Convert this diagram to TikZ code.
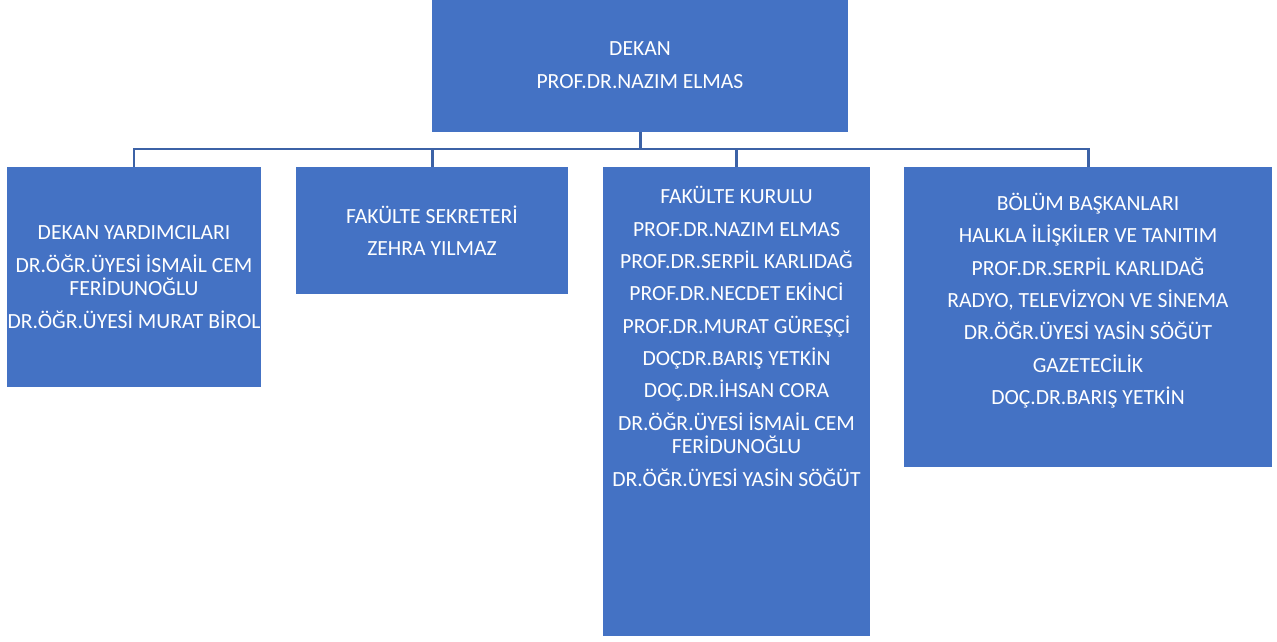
\documentclass[tikz,border=0pt]{standalone}
\usepackage{fontspec}
\setmainfont{Carlito}
\definecolor{boxblue}{HTML}{4472C4}
\definecolor{linkblue}{HTML}{3C62A6}

\begin{document}
\begin{tikzpicture}[
        box/.style={fill=boxblue, inner sep=0pt, outer sep=0pt},
        txt/.style={text=white, align=center, inner sep=0pt, font=\fontsize{6.15}{6.7}\selectfont},
        link/.style={draw=linkblue, line width=0.85pt}
        ]
            \useasboundingbox (0, 0) rectangle (12.77, -6.41);

            % Dekan
            \node[box, minimum width=4.16cm, minimum height=1.32cm] (dekan) at (6.40, -0.66) {};
            \node[txt] (dekantxt) at ([yshift=0.01cm]dekan.center) {DEKAN\\[2.5pt] PROF.DR.NAZIM ELMAS};

            % Second level
            \node[box, minimum width=2.54cm, minimum height=2.20cm] (yard) at (1.34, -2.77) {};
            \node[box, minimum width=2.72cm, minimum height=1.27cm] (sekreter) at (4.32, -2.305) {};
            \node[box, minimum width=2.67cm, minimum height=4.69cm] (kurul) at (7.365, -4.015) {};
            \node[box, minimum width=3.68cm, minimum height=3.00cm] (bolum) at (10.88, -3.17) {};

            \node[txt] (yardtxt) at (yard.center) {DEKAN YARDIMCILARI\\[2.5pt] DR.ÖĞR.ÜYESİ İSMAİL CEM\\ FERİDUNOĞLU\\[2.5pt] DR.ÖĞR.ÜYESİ MURAT BİROL};
            \node[txt] (sekretertxt) at (sekreter.center) {FAKÜLTE SEKRETERİ\\[2.5pt] ZEHRA YILMAZ};
            \node[txt] (kurultxt) at ([yshift=0.65cm]kurul.center) {FAKÜLTE KURULU\\[2.5pt] PROF.DR.NAZIM ELMAS\\[2.5pt] PROF.DR.SERPİL KARLIDAĞ\\[2.5pt] PROF.DR.NECDET EKİNCİ\\[2.5pt] PROF.DR.MURAT GÜREŞÇİ\\[2.5pt] DOÇDR.BARIŞ YETKİN\\[2.5pt] DOÇ.DR.İHSAN CORA\\[2.5pt] DR.ÖĞR.ÜYESİ İSMAİL CEM\\ FERİDUNOĞLU\\[2.5pt] DR.ÖĞR.ÜYESİ YASİN SÖĞÜT};
            \node[txt] (bolumtxt) at ([yshift=0.165cm]bolum.center) {BÖLÜM BAŞKANLARI\\[2.5pt] HALKLA İLİŞKİLER VE TANITIM\\[2.5pt] PROF.DR.SERPİL KARLIDAĞ\\[2.5pt] RADYO, TELEVİZYON VE SİNEMA\\[2.5pt] DR.ÖĞR.ÜYESİ YASİN SÖĞÜT\\[2.5pt] GAZETECİLİK\\[2.5pt] DOÇ.DR.BARIŞ YETKİN};

            % Connectors
            \coordinate (bus) at (0, -1.49);
            \draw[link] (dekan.south) -- (dekan.south |- bus);
            \draw[link] (yard.north) |- (bolum.north |- bus) -- (bolum.north);
            \draw[link] (sekreter.north) -- (sekreter.north |- bus);
            \draw[link] (kurul.north) -- (kurul.north |- bus);
        \end{tikzpicture}
\end{document}
